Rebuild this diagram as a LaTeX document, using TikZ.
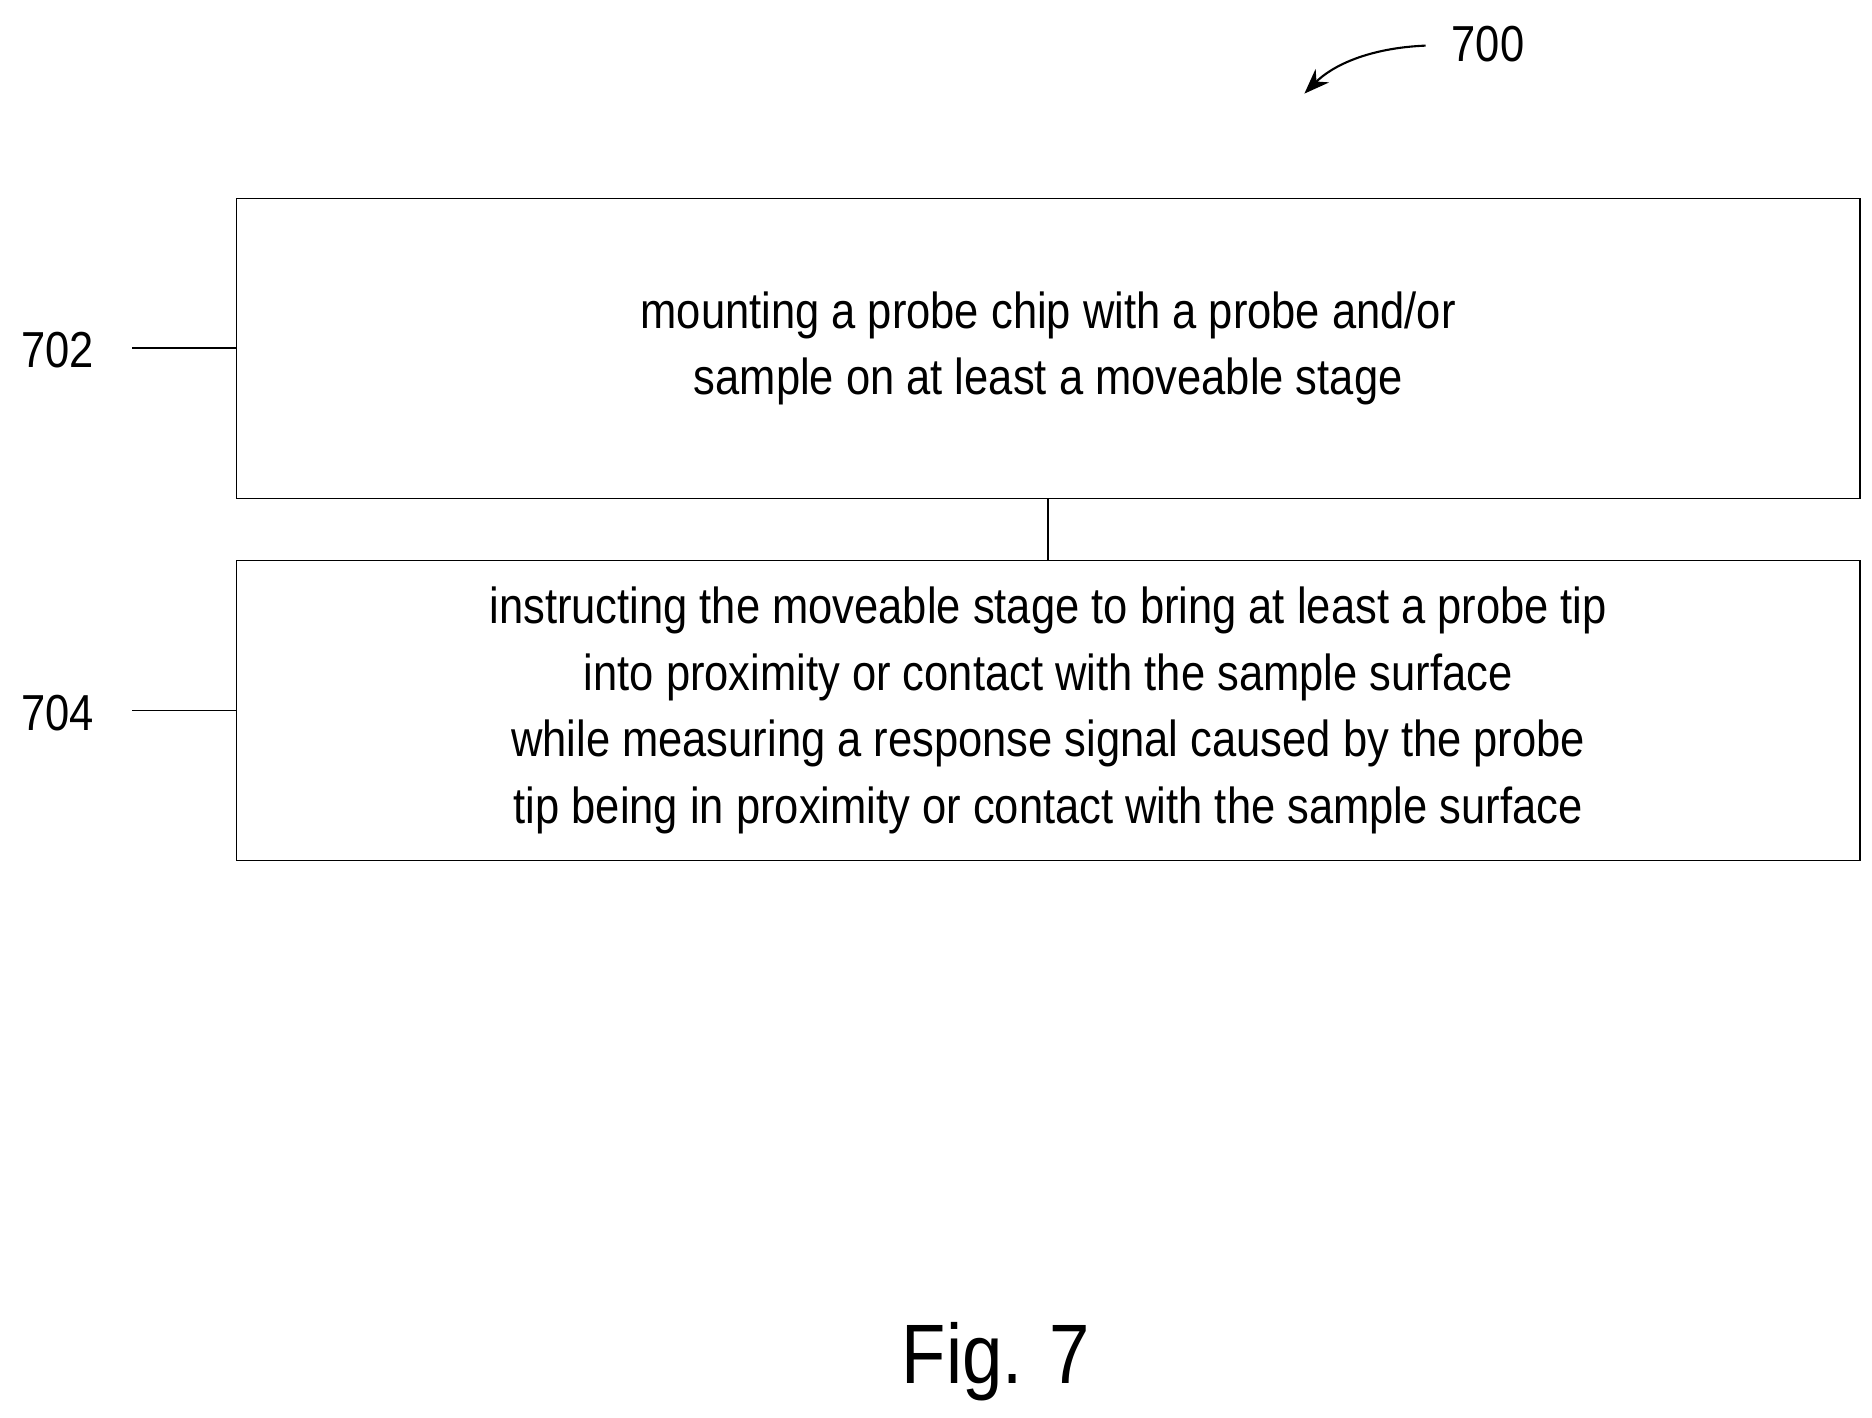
\documentclass[tikz,border=0pt]{standalone}
\usetikzlibrary{arrows.meta}
\usepackage{fontspec}
\setmainfont[FakeStretch=0.86]{Liberation Sans}
\begin{document}
\begin{tikzpicture}[x=0.02cm,y=-0.02cm,
  stepbox/.style={draw,line width=0.8pt,minimum width=27.06cm,minimum height=5cm,align=center,font=\fontsize{24}{31.5}\selectfont,inner sep=0pt},
  lbl/.style={font=\fontsize{24}{28}\selectfont}]
\useasboundingbox (0,0) rectangle (1560,1181);
\node[stepbox] (b1) at (873.5,290.5) {mounting a probe chip with a probe and/or\\sample on at least a moveable stage};
\node[stepbox] (b2) at (873.5,592) {instructing the moveable stage to bring at least a probe tip\\into proximity or contact with the sample surface\\while measuring a response signal caused by the probe\\tip being in proximity or contact with the sample surface};
\draw[line width=0.8pt] (b1.south) -- (b2.north);
\node[lbl] (l702) at (48,292) {702};
\node[lbl] (l704) at (48,594) {704};
\coordinate (c702) at (110,290);
\coordinate (c704) at (110,592);
\draw[line width=0.8pt] (c702) -- (b1.west|-c702);
\draw[line width=0.8pt] (c704) -- (b2.west|-c704);
\node[lbl] (l700) at (1240,37) {700};
\coordinate (a1) at (1188,38);
\coordinate (a2) at (1087,78);
\draw[line width=1pt,-{Stealth[length=12pt,width=9pt]}] (a1) .. controls (1140,40) and (1110,55) .. (a2);
\node[font=\fontsize{40}{44}\selectfont] (fig) at (830,1135) {Fig. 7};
\end{tikzpicture}
\end{document}
